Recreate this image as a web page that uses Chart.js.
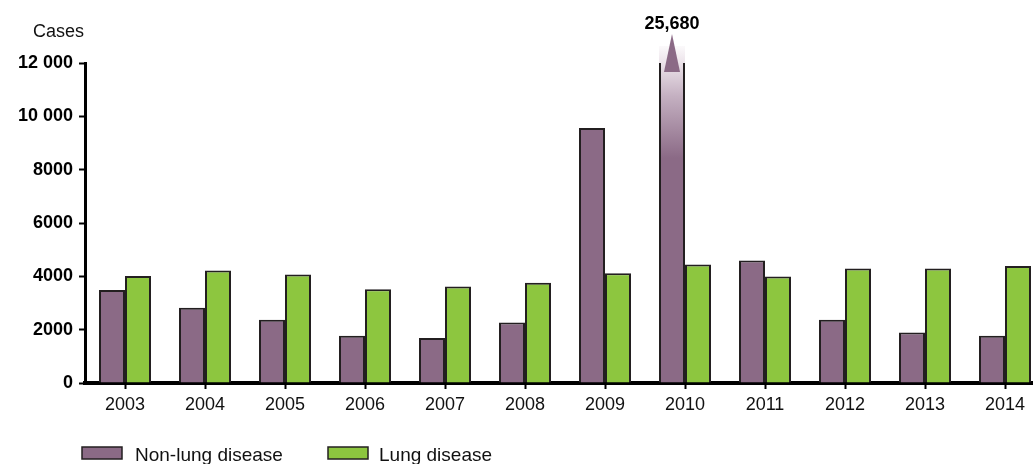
<!DOCTYPE html>
<html>
<head>
<meta charset="utf-8">
<script src="https://cdn.jsdelivr.net/npm/chart.js@4"></script>
<style>
  html, body { margin: 0; padding: 0; background: #fff; overflow: hidden; }
  #wrap { width: 1045px; height: 464px; }
</style>
</head>
<body>
<div id="wrap"><canvas id="graph" width="1045" height="464"></canvas></div>
<script>
  /// data ///
  const years = ['2003','2004','2005','2006','2007','2008','2009','2010','2011','2012','2013','2014']
  const nonLung = [3490, 2820, 2370, 1770, 1690, 2270, 9560, 25680, 4590, 2370, 1890, 1770]
  const lung    = [4010, 4220, 4070, 3520, 3620, 3760, 4120, 4440, 3990, 4290, 4290, 4390]
  const yTicks  = [0, 2000, 4000, 6000, 8000, 10000, 12000]
  const yMax = 12000
  const bigIndex = 7   // 2010 goes off the scale

  const purple = '#8b6a86'
  const green = '#8dc63f'
  const edge = '#231f20'
  const FONT = "'Liberation Sans', Arial, sans-serif"

  /// bar colour, gradient for the clipped bar ///
  function purpleFill(ctx) {
    if (ctx.dataIndex !== bigIndex) return purple
    const chart = ctx.chart
    const area = chart.chartArea
    if (!area) return purple
    const g = chart.ctx.createLinearGradient(0, area.top, 0, area.top + 95)
    g.addColorStop(0, '#ece3ea')
    g.addColorStop(0.35, '#c4b0c1')
    g.addColorStop(1, purple)
    return g
  }

  /// extras: title, arrow, label, legend ///
  const extras = {
    id: 'extras',
    afterDatasetsDraw(chart) {
      const c = chart.ctx
      const area = chart.chartArea
      const bar = chart.getDatasetMeta(0).data[bigIndex]
      const half = bar.width / 2
      c.save()
      // faded stub above the bar
      const g = c.createLinearGradient(0, area.top - 17, 0, area.top)
      g.addColorStop(0, 'rgba(236,227,234,0.2)')
      g.addColorStop(1, '#ece3ea')
      c.fillStyle = g
      c.fillRect(bar.x - half, area.top - 17, bar.width, 17)
      // arrow
      c.fillStyle = purple
      c.beginPath()
      c.moveTo(bar.x, area.top - 29)
      c.lineTo(bar.x + 8, area.top + 9)
      c.lineTo(bar.x - 8, area.top + 9)
      c.closePath()
      c.fill()
      // value label
      c.fillStyle = '#000'
      c.font = 'bold 18px ' + FONT
      c.textAlign = 'center'
      c.textBaseline = 'alphabetic'
      c.fillText(nonLung[bigIndex].toLocaleString('en-US'), bar.x, area.top - 34)
      c.restore()
    },
    afterDraw(chart) {
      const c = chart.ctx
      c.save()
      c.fillStyle = '#111'
      c.font = '18px ' + FONT
      c.textBaseline = 'alphabetic'
      c.fillText('Cases', 33, 37)
      // legend
      const items = [[82, 135], [328, 379]]
      chart.data.datasets.forEach((ds, i) => {
        const [bx, tx] = items[i]
        c.fillStyle = ds.legendColor
        c.fillRect(bx, 447, 40, 12)
        c.lineWidth = 1.5
        c.strokeStyle = edge
        c.strokeRect(bx, 447, 40, 12)
        c.fillStyle = '#111'
        c.font = '19px ' + FONT
        c.fillText(ds.label, tx, 461)
      })
      c.restore()
    }
  }

  /// graph ///
  const ctx = document.getElementById('graph').getContext('2d')
  const myChart = new Chart(ctx, {
    type: 'bar',
    data: {
      labels: years,
      datasets: [
        { label: 'Non-lung disease', data: nonLung, backgroundColor: purpleFill, legendColor: purple,
          borderColor: edge, borderWidth: 2 },
        { label: 'Lung disease', data: lung, backgroundColor: green, legendColor: green,
          borderColor: edge, borderWidth: 2 }
      ]
    },
    options: {
      responsive: false,
      animation: false,
      events: [],
      categoryPercentage: 0.65,
      barPercentage: 1,
      layout: { padding: { top: 63, left: 0, right: 0, bottom: 0 } },
      plugins: { legend: { display: false }, tooltip: { enabled: false } },
      scales: {
        x: {
          afterFit: s => { s.height = 81 },
          grid: { offset: false, drawOnChartArea: false, tickLength: 6, tickWidth: 2, tickColor: '#000' },
          border: { color: '#000', width: 4 },
          ticks: { color: '#111', padding: 5, font: { family: FONT, size: 18 } }
        },
        y: {
          min: 0,
          max: yMax,
          afterFit: s => { s.width = 85 },
          afterBuildTicks: s => { s.ticks = yTicks.map(v => ({ value: v })) },
          grid: { drawOnChartArea: false, tickLength: 6, tickWidth: 2, tickColor: '#000' },
          border: { color: '#000', width: 3 },
          ticks: {
            color: '#000',
            padding: 6,
            font: { family: FONT, size: 18, weight: 'bold' },
            callback: v => v >= 10000 ? String(v).replace(/(\d)(?=(\d{3})$)/, '$1 ') : String(v)
          }
        }
      }
    },
    plugins: [extras]
  })
</script>
</body>
</html>
